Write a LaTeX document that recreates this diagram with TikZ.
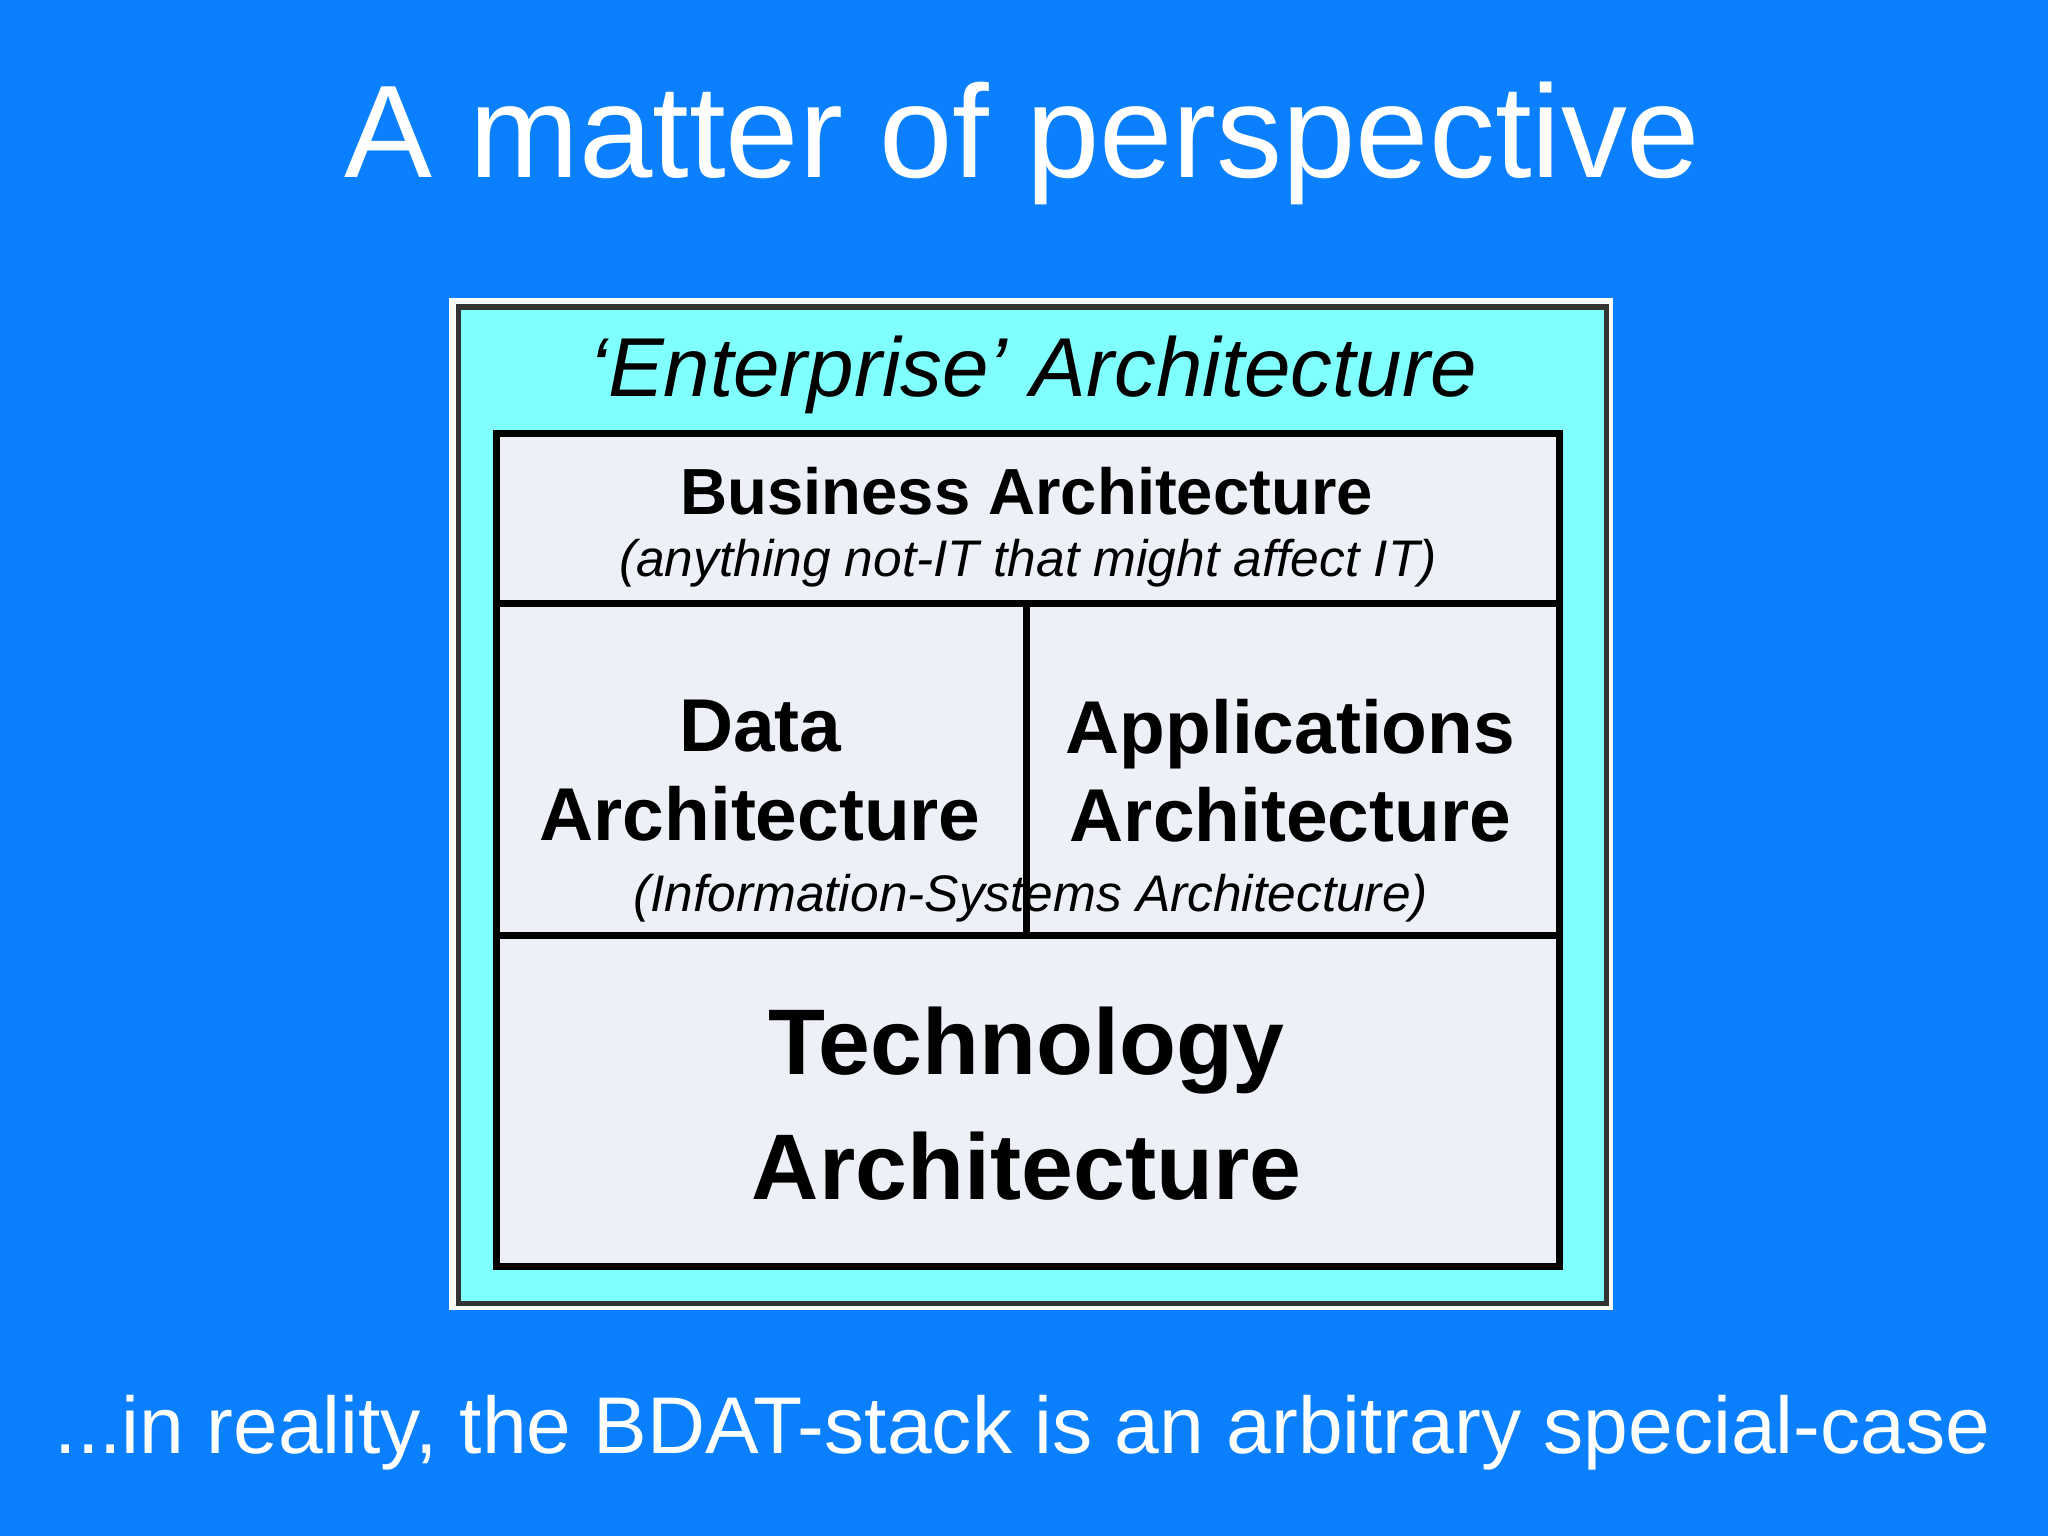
\documentclass[tikz,border=0pt]{standalone}
\usepackage{fontspec}
\setmainfont{Liberation Sans}
\definecolor{bg}{RGB}{10,128,255}
\definecolor{cy}{RGB}{128,255,255}
\definecolor{pale}{RGB}{238,240,248}
\begin{document}
\begin{tikzpicture}[x=0.01cm,y=-0.01cm,
  fs/.style={font=\fontsize{#1}{#1}\selectfont},
  lbl/.style={inner sep=0pt, align=center}]
\fill[bg] (0,0) rectangle (1568,1176);
\useasboundingbox (0,0) rectangle (1568,1176);
\node[lbl, white, fs=28.7pt] (title) at (783,110) {A matter of perspective};
\fill[white] (344,228) rectangle (1235,1003);
\filldraw[fill=cy, draw=black!80, line width=1.2pt] (351,235) rectangle (1230,998);
\filldraw[fill=pale, draw=black, line width=1.5pt] (380,332) rectangle (1194,970);
\draw[black, line width=1.5pt] (380,462) -- (1194,462);
\draw[black, line width=1.5pt] (380,716) -- (1194,716);
\draw[black, line width=1.5pt] (786,462) -- (786,716);
\node[lbl, fs=18.2pt] (ea) at (791,287) {\itshape `Enterprise' Architecture};
\node[lbl, fs=14.2pt] (ba) at (786,376) {\bfseries Business Architecture};
\node[lbl, fs=11.2pt] (bas) at (787,431) {\itshape (anything not-IT that might affect IT)};
\node[lbl, fs=16.3pt] (da) at (582,590) {\bfseries Data\\[3pt]\bfseries Architecture};
\node[lbl, fs=16.3pt] (aa) at (988,590) {\bfseries Applications\\[3pt]\bfseries Architecture};
\node[lbl, fs=11.2pt] (isa) at (789,688) {\itshape (Information-Systems Architecture)};
\node[lbl, fs=20.3pt] (ta) at (786,845) {\bfseries Technology\\[7pt]\bfseries Architecture};
\node[lbl, white, fs=17.5pt] (foot) at (783,1097) {...in reality, the BDAT-stack is an arbitrary special-case};
\end{tikzpicture}
\end{document}
